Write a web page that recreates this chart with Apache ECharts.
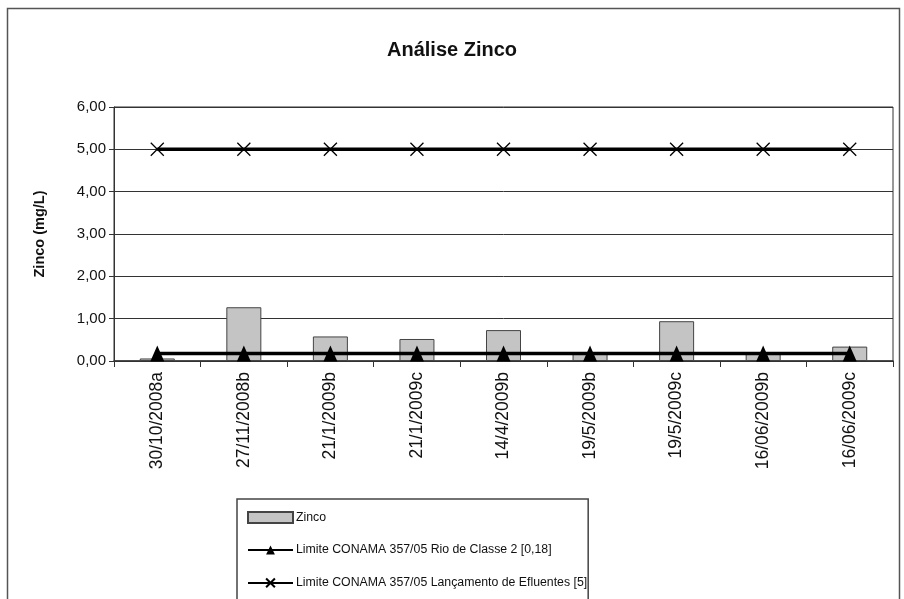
<!DOCTYPE html>
<html><head><meta charset="utf-8">
<script src="https://cdn.jsdelivr.net/npm/echarts@6/dist/echarts.min.js"></script>
<style>html,body{margin:0;padding:0;background:#fff}#c{width:904px;height:599px}</style>
</head><body><div id="c"></div>
<script>
const categories = ['30/10/2008a','27/11/2008b','21/1/2009b','21/1/2009c','14/4/2009b','19/5/2009b','19/5/2009c','16/06/2009b','16/06/2009c'];
const zinco = [0.06, 1.27, 0.58, 0.52, 0.73, 0.17, 0.94, 0.17, 0.34];
const limiteRio = [0.18, 0.18, 0.18, 0.18, 0.18, 0.18, 0.18, 0.18, 0.18];
const limiteEfl = [5, 5, 5, 5, 5, 5, 5, 5, 5];
const seriesNames = ['Zinco', 'Limite CONAMA 357/05 Rio de Classe 2 [0,18]', 'Limite CONAMA 357/05 Lançamento de Efluentes [5]'];

const chart = echarts.init(document.getElementById('c'), null, {renderer: 'canvas'});
const font = 'Liberation Sans, Arial, sans-serif';
const xPath = 'path://M0,0L10,10M10,0L0,10';
chart.setOption({
  backgroundColor: '#fff',
  animation: false,
  textStyle: {fontFamily: font},
  graphic: [{type: 'rect', shape: {x: 7.5, y: 8.5, width: 892, height: 600}, style: {fill: 'none', stroke: '#555', lineWidth: 1.5}, z: 0}],
  title: {text: 'Análise Zinco', left: 'center', top: 35, textStyle: {fontFamily: font, fontSize: 20, fontWeight: 'bold', color: '#111'}},
  grid: {left: 114, right: 11, top: 107, bottom: 238, show: true, borderColor: '#333', borderWidth: 1, backgroundColor: '#fff'},
  legend: {
    orient: 'vertical', left: 237, top: 499, height: 200,
    padding: [12, 1, 30, 10], itemGap: 20, itemWidth: 45, itemHeight: 11,
    borderColor: '#444', borderWidth: 1.5, backgroundColor: '#fff',
    textStyle: {fontFamily: font, fontSize: 12.3, color: '#111', padding: [0, 0, 0, -2]},
    data: [{name: seriesNames[0], icon: 'rect'}, seriesNames[1], seriesNames[2]]
  },
  xAxis: {
    type: 'category', data: categories, boundaryGap: true,
    axisLine: {lineStyle: {color: '#333', width: 1.5}},
    axisTick: {show: true, alignWithLabel: false, length: 6, lineStyle: {color: '#333'}},
    axisLabel: {rotate: 90, fontSize: 17.5, color: '#111', margin: 11, fontFamily: font}
  },
  yAxis: {
    type: 'value', min: 0, max: 6, interval: 1,
    name: 'Zinco (mg/L)', nameLocation: 'middle', nameGap: 67,
    nameTextStyle: {fontFamily: font, fontSize: 14.5, fontWeight: 'bold', color: '#111'},
    axisLine: {show: true, lineStyle: {color: '#333', width: 1}},
    axisTick: {show: true, length: 5, lineStyle: {color: '#333'}},
    axisLabel: {fontSize: 15, color: '#111', margin: 8, fontFamily: font,
      formatter: v => v.toFixed(2).replace('.', ',')},
    splitLine: {show: true, lineStyle: {color: '#333', width: 1}}
  },
  series: [
    {name: seriesNames[0], type: 'bar', data: zinco, barWidth: 35,
     itemStyle: {color: '#c4c4c4', borderColor: '#444', borderWidth: 1}, z: 2},
    {name: seriesNames[1], type: 'line', data: limiteRio, symbol: 'triangle', symbolSize: [14, 16],
     lineStyle: {color: '#000', width: 3.5}, itemStyle: {color: '#000'}, z: 3},
    {name: seriesNames[2], type: 'line', data: limiteEfl, symbol: xPath, symbolSize: 13,
     lineStyle: {color: '#000', width: 3.5}, itemStyle: {color: 'none', borderColor: '#000', borderWidth: 1.3}, z: 3}
  ]
});
</script></body></html>
